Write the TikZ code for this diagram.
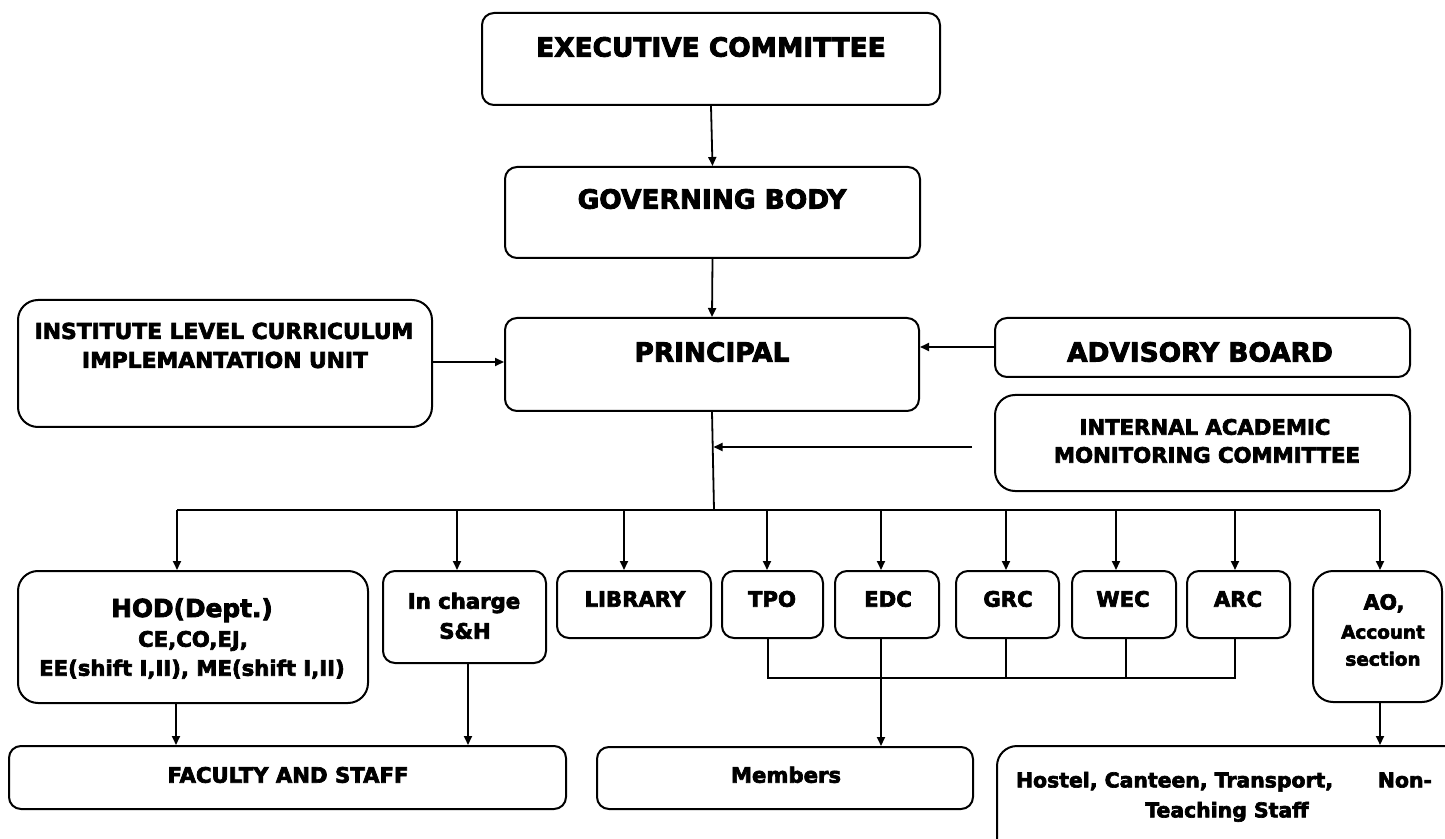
\documentclass[tikz,border=0pt]{standalone}
\usepackage{fontspec}
\setmainfont{DejaVu Sans}[BoldFeatures={FakeBold=3.2}]
\usetikzlibrary{arrows.meta,fit}
\begin{document}
\begin{tikzpicture}[x=0.5pt,y=-0.5pt,
  box/.style={draw,line width=1pt,rounded corners=6pt,inner sep=0pt},
  bigbox/.style={box,rounded corners=10pt},
  tb/.style={font=\bfseries\fontsize{13.2}{16}\selectfont,inner sep=0pt,text height=9.6pt,text depth=0pt},
  tn/.style={font=\bfseries\fontsize{10.6}{13}\selectfont,inner sep=0pt,text height=7.7pt,text depth=0pt},
  ti/.style={font=\bfseries\fontsize{10.9}{13}\selectfont,inner sep=0pt,text height=7.9pt,text depth=0pt},
  th/.style={font=\bfseries\fontsize{12.4}{15}\selectfont,inner sep=0pt,text height=9pt,text depth=0pt},
  tao/.style={font=\bfseries\fontsize{10.3}{13}\selectfont,inner sep=0pt,text height=7.5pt,text depth=0pt},
  ts/.style={font=\bfseries\fontsize{9.2}{11}\selectfont,inner sep=0pt,text height=6.7pt,text depth=0pt},
  thl/.style={font=\bfseries\fontsize{10.2}{12}\selectfont,inner sep=0pt,text height=7.4pt,text depth=0pt},
  arr/.style={line width=0.9pt,-{Triangle[length=4.5pt,width=4pt]}},
  ln/.style={line width=0.9pt}]
\useasboundingbox (0,0) rectangle (1445,839);
\clip (0,0) rectangle (1445,839);
\fill[white] (0,0) rectangle (1445,839);

% boxes
\node[box,fit={(482,13) (940,105)}] (exec) {};
\node[box,fit={(505,167) (920,258)}] (gov) {};
\node[box,fit={(505,318) (919,411)}] (principal) {};
\node[bigbox,fit={(18,300) (432,427)}] (ilciu) {};
\node[box,fit={(995,318) (1410,377)}] (advisory) {};
\node[bigbox,fit={(995,395) (1410,491)}] (iamc) {};
\node[bigbox,fit={(18,571) (368,703)}] (hod) {};
\node[box,fit={(383,571) (546,663)}] (incharge) {};
\node[box,fit={(557,571) (711,638)}] (library) {};
\node[box,fit={(722,571) (823,638)}] (tpo) {};
\node[box,fit={(835,571) (939,638)}] (edc) {};
\node[box,fit={(956,571) (1059,638)}] (grc) {};
\node[box,fit={(1072,571) (1176,638)}] (wec) {};
\node[box,fit={(1187,571) (1290,638)}] (arc) {};
\node[bigbox,fit={(1313,571) (1442,702)}] (ao) {};
\node[box,fit={(9,746) (566,809)}] (faculty) {};
\node[box,fit={(597,747) (973,809)}] (members) {};
\node[bigbox,fit={(997,746) (1470,880)}] (hostel) {};

% texts
\node[tb] (execT) at (711,47) {EXECUTIVE COMMITTEE};
\node[tb] (govT) at (712,199) {GOVERNING BODY};
\node[tb] (principalT) at (712,352) {PRINCIPAL};
\node[tb] (advisoryT) at (1200,352) {ADVISORY BOARD};
\node[ti] (ilciuA) at (224,331) {INSTITUTE LEVEL CURRICULUM};
\node[ti] (ilciuB) at (225,360) {IMPLEMANTATION UNIT};
\node[tn] (iamcA) at (1205,427) {INTERNAL ACADEMIC};
\node[tn] (iamcB) at (1207,455) {MONITORING COMMITTEE};
\node[th] (hodA) at (192,608) {HOD(Dept.)};
\node[tn] (hodB) at (193,639) {CE,CO,EJ,};
\node[tn] (hodC) at (192,668) {EE(shift I,II), ME(shift I,II)};
\node[tn] (inchA) at (464,601) {In charge};
\node[tn] (inchB) at (465,631) {S\&H};
\node[tn] (libraryT) at (635,599) {LIBRARY};
\node[tn] (tpoT) at (772,599) {TPO};
\node[tn] (edcT) at (888,599) {EDC};
\node[tn] (grcT) at (1008,599) {GRC};
\node[tn] (wecT) at (1123,599) {WEC};
\node[tn] (arcT) at (1238,599) {ARC};
\node[tao] (aoA) at (1384,602) {AO,};
\node[ts] (aoB) at (1383,632) {Account};
\node[ts] (aoC) at (1383,659) {section};
\node[tn] (facultyT) at (288,775) {FACULTY AND STAFF};
\node[tn] (membersT) at (786,775) {Members};
\node[thl] (hostelA) at (1224,780) {\hbox to 208pt{Hostel, Canteen, Transport,\hfill Non-}};
\node[thl] (hostelB) at (1227,810) {Teaching Staff};

% connectors
\draw[arr] (exec.south) -- (gov.north);
\draw[arr] (gov.south) -- (principal.north);
\draw[arr] (ilciu.east |- 0,362) -- (principal.west |- 0,362);
\draw[arr] (advisory.west |- 0,347) -- (principal.east |- 0,347);
\coordinate (busmid) at (714,510);
\coordinate (iamcstart) at (972,447);
\coordinate (tee) at (713.5,447);
\draw[ln] (principal.south) -- (busmid);
\draw[arr] (iamcstart) -- (tee);
\coordinate (busL) at (177,510);
\coordinate (busR) at (1380,510);
\draw[ln] (busL) -- (busR);
\draw[arr] (busL) -- (hod.north -| busL);
\draw[arr] (457,510) -- (incharge.north -| 457,0);
\draw[arr] (624,510) -- (library.north -| 624,0);
\draw[arr] (767,510) -- (tpo.north -| 767,0);
\draw[arr] (881,510) -- (edc.north -| 881,0);
\draw[arr] (1006,510) -- (grc.north -| 1006,0);
\draw[arr] (1116,510) -- (wec.north -| 1116,0);
\draw[arr] (1235,510) -- (arc.north -| 1235,0);
\draw[arr] (busR) -- (ao.north -| busR);
% lower group
\coordinate (gl) at (768,678);
\coordinate (gr) at (1235,678);
\draw[ln] (tpo.south -| gl) -- (gl) -- (gr) -- (arc.south -| gr);
\draw[ln] (grc.south -| 1006,0) -- (1006,678);
\draw[ln] (wec.south -| 1126,0) -- (1126,678);
\draw[arr] (edc.south -| 881,0) -- (members.north -| 881,0);
\draw[arr] (hod.south -| 176,0) -- (faculty.north -| 176,0);
\draw[arr] (incharge.south -| 468,0) -- (faculty.north -| 468,0);
\draw[arr] (ao.south -| 1380,0) -- (hostel.north -| 1380,0);
\end{tikzpicture}
\end{document}
